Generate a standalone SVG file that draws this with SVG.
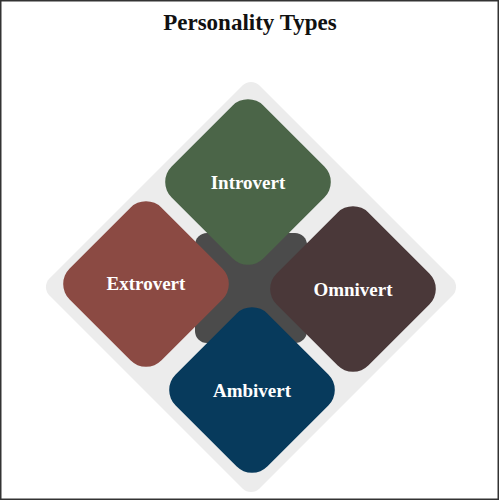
<svg xmlns="http://www.w3.org/2000/svg" width="500" height="500" viewBox="0 0 500 500">
  <style>
    .lbl { font-family: "Liberation Serif", "Times New Roman", serif; font-weight: bold; font-size: 19px; fill: #ffffff; text-anchor: middle; }
    .title { font-family: "Liberation Serif", "Times New Roman", serif; font-weight: bold; font-size: 23px; fill: #111111; text-anchor: middle; }
  </style>
  <defs>
    <rect id="tile" x="-65" y="-65" width="130" height="130" rx="22" ry="22" transform="rotate(45)"/>
  </defs>
  <rect x="0" y="0" width="500" height="500" fill="#ffffff"/>
  <rect x="0.75" y="0.75" width="497.5" height="498.5" fill="none" stroke="#333333" stroke-width="1.5"/>
  <text class="title" x="250" y="30">Personality Types</text>

  <g id="background">
    <rect x="-148.5" y="-148.5" width="297" height="297" rx="12" ry="12" fill="#ececec" transform="translate(251 287) rotate(45)"/>
    <rect x="195" y="233" width="112" height="110" rx="12" ry="12" fill="#4b4b4b"/>
  </g>

  <g id="connectors"></g>

  <g id="introvert">
    <use href="#tile" transform="translate(248 182)" fill="#4b6548"/>
    <text class="lbl" x="248" y="189">Introvert</text>
  </g>
  <g id="extrovert">
    <use href="#tile" transform="translate(146 284)" fill="#8b4a43"/>
    <text class="lbl" x="146" y="290">Extrovert</text>
  </g>
  <g id="omnivert">
    <use href="#tile" transform="translate(353 289)" fill="#4a3839"/>
    <text class="lbl" x="353" y="296">Omnivert</text>
  </g>
  <g id="ambivert">
    <use href="#tile" transform="translate(252 390)" fill="#073a5c"/>
    <text class="lbl" x="252" y="397">Ambivert</text>
  </g>
</svg>
